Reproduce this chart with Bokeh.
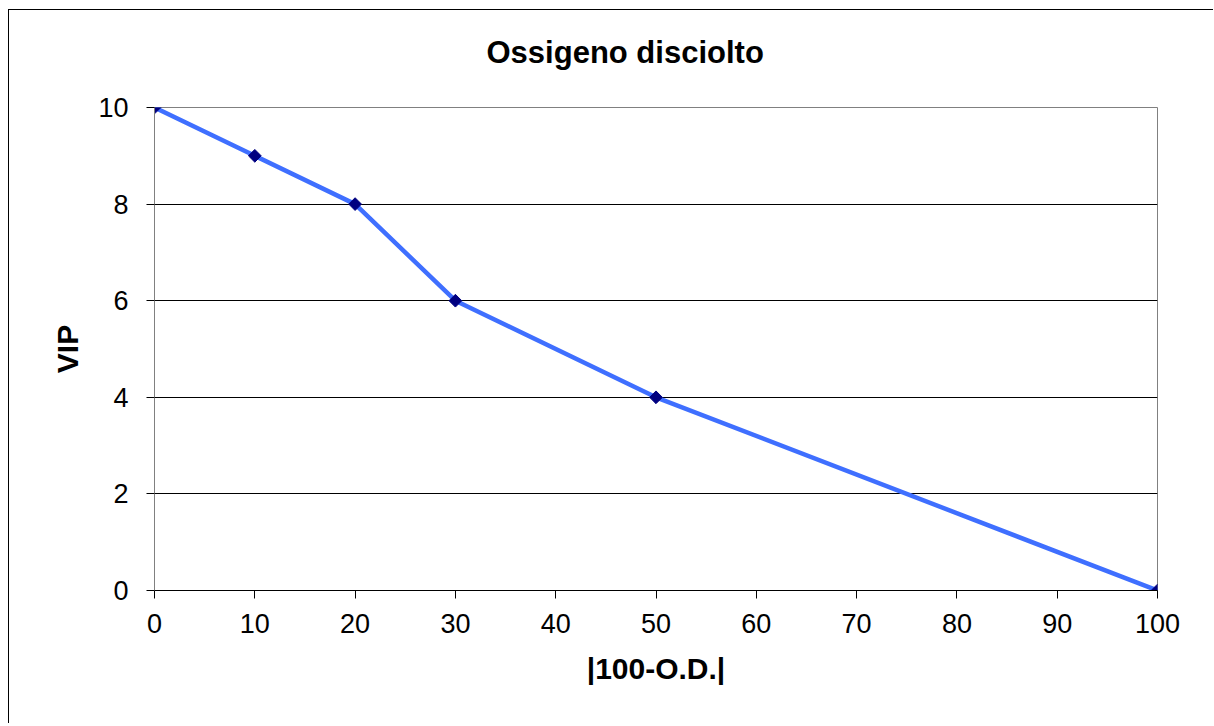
import math
from bokeh.plotting import figure
from bokeh.embed import file_html
from bokeh.resources import INLINE
from bokeh.models import Range1d, FixedTicker

x_vals = [0, 10, 20, 30, 50, 100]
vip_vals = [10, 9, 8, 6, 4, 0]
x_ticks = [0, 10, 20, 30, 40, 50, 60, 70, 80, 90, 100]
y_ticks = [0, 2, 4, 6, 8, 10]
title_text = "Ossigeno disciolto"

FONT = "Liberation Sans"

p = figure(width=1205, height=730, output_backend="svg", toolbar_location=None,
           x_range=Range1d(0, 100), y_range=Range1d(0, 10),
           min_border_left=146, min_border_right=56, min_border_top=114, min_border_bottom=133)
# outer chart border (left and top edges) drawn as inset shadows on the figure element
p.styles = {"margin-left": "8px", "margin-top": "-7px",
            "box-shadow": "inset 0 33px 0 -17px white, inset 18px 34px 0 -17px black"}

p.title.text = title_text
p.title.text_font = FONT
p.title.text_font_size = "31px"
p.title.text_font_style = "bold"
p.title.text_color = "black"
p.title.align = "left"
p.title.offset = 332
p.title.standoff = 76

p.outline_line_color = "#808080"
p.outline_line_width = 1
p.background_fill_color = "white"
p.border_fill_color = None

p.xgrid.grid_line_color = None
p.ygrid.grid_line_color = "black"
p.ygrid.grid_line_width = 1

p.xaxis.ticker = FixedTicker(ticks=x_ticks)
p.yaxis.ticker = FixedTicker(ticks=y_ticks)
p.xaxis.minor_tick_line_color = None
p.yaxis.minor_tick_line_color = None

for ax in (p.xaxis[0], p.yaxis[0]):
    ax.major_tick_in = 0
    ax.major_tick_out = 8
    ax.major_tick_line_color = "black"
    ax.major_label_text_font = FONT
    ax.major_label_text_font_size = "27px"
    ax.major_label_text_color = "black"
    ax.axis_label_text_font = FONT
    ax.axis_label_text_font_size = "30px"
    ax.axis_label_text_font_style = "bold"
    ax.axis_label_text_color = "black"

p.xaxis.axis_line_color = "black"
p.yaxis.axis_line_color = "#808080"
p.xaxis.axis_label = "|100-O.D.|"
p.yaxis.axis_label = "VIP"
p.xaxis.major_label_standoff = 15
p.yaxis.major_label_standoff = 18
p.xaxis.axis_label_standoff = 16
p.yaxis.axis_label_standoff = 11

p.line(x_vals, vip_vals, line_color="#3F6FFF", line_width=4.5)
p.scatter(x_vals, vip_vals, marker="square", size=9, angle=math.pi / 4,
          fill_color="#000080", line_color="#000080", line_width=1)

open("out.html", "w").write(file_html(p, INLINE))
